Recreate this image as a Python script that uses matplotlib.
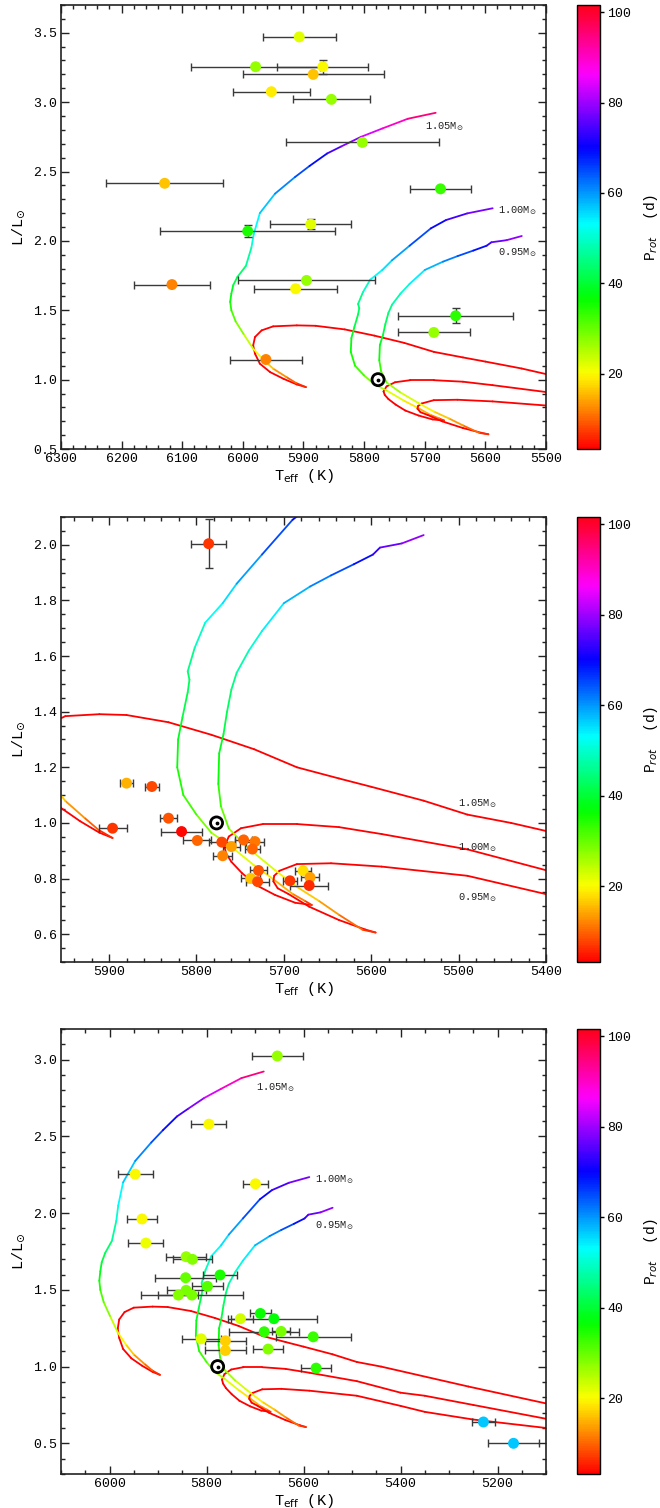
import numpy as np
import matplotlib
matplotlib.use('Agg')
import matplotlib.pyplot as plt
from matplotlib.collections import LineCollection
from matplotlib.colors import Normalize
from matplotlib.cm import ScalarMappable
from matplotlib.ticker import MultipleLocator

plt.rcParams['font.family'] = ['Liberation Mono', 'DejaVu Sans Mono', 'DejaVu Sans']
plt.rcParams['mathtext.fontset'] = 'dejavusans'

# evolutionary tracks: Teff, L, Prot along the track (pre-MS from the cool side, then MS)
trk105_teff = [5100, 5260, 5440, 5490, 5540, 5600, 5637, 5685, 5734, 5783, 5832, 5880, 5911, 5950,
               5969, 5980, 5983, 5980, 5972, 5955, 5933, 5911, 5896,
               5912, 5928, 5950, 5966, 5983, 5999, 6012, 6019, 6021, 6019, 6016, 6009, 5995, 5986,
               5982, 5972, 5947, 5914, 5890, 5861, 5838, 5805, 5770, 5728, 5682]
trk105_lum = [0.76, 0.87, 1.00, 1.03, 1.08, 1.13, 1.16, 1.20, 1.265, 1.317, 1.362, 1.388, 1.391, 1.384,
              1.355, 1.307, 1.247, 1.187, 1.115, 1.054, 1.006, 0.965, 0.946,
              0.975, 1.018, 1.079, 1.143, 1.223, 1.33, 1.42, 1.50, 1.56, 1.62, 1.68, 1.74, 1.82, 1.95,
              2.05, 2.20, 2.34, 2.46, 2.54, 2.63, 2.68, 2.75, 2.81, 2.88, 2.923]
trk105_prot = [3.5, 3.5, 3.5, 3.5, 3.5, 3.5, 3.5, 3.5, 3.5, 3.5, 3.5, 3.5, 3.5, 3.5,
               3.5, 3.5, 3.5, 3.5, 3.5, 3.5, 3.5, 3.5, 4,
               8, 11, 15, 18, 22, 26, 30, 33, 36, 38, 40, 42, 45, 49,
               52, 55, 59, 63, 67, 72, 76, 81, 87, 93, 97]

trk100_teff = [5100, 5250, 5350, 5400, 5490, 5588, 5637, 5685, 5724, 5749, 5763, 5768, 5766, 5760,
               5748, 5732, 5710, 5687, 5668,
               5676, 5690, 5713, 5735, 5763, 5783, 5800, 5815, 5822, 5821, 5816, 5810, 5808, 5810,
               5802, 5790, 5770, 5754, 5725, 5690, 5665, 5630, 5588]
trk100_lum = [0.66, 0.75, 0.81, 0.83, 0.905, 0.96, 0.985, 0.996, 0.996, 0.981, 0.951, 0.915, 0.89, 0.86,
              0.82, 0.777, 0.741, 0.713, 0.705,
              0.72, 0.745, 0.80, 0.85, 0.922, 0.965, 1.03, 1.10, 1.20, 1.30, 1.38, 1.47, 1.515, 1.545,
              1.63, 1.72, 1.79, 1.86, 1.965, 2.09, 2.15, 2.198, 2.235]
trk100_prot = [3.5, 3.5, 3.5, 3.5, 3.5, 3.5, 3.5, 3.5, 3.5, 3.5, 3.5, 3.5, 3.5, 3.5,
               3.5, 3.5, 3.5, 3.5, 4,
               10, 13, 17, 20, 24, 27, 31, 34, 36, 38, 40, 42, 43, 44,
               47, 51, 54, 57, 62, 68, 72, 76, 79]

trk095_teff = [5100, 5250, 5350, 5400, 5490, 5588, 5646, 5685, 5705, 5711, 5712, 5707, 5695, 5671, 5637,
               5607, 5595,
               5610, 5637, 5660, 5685, 5710, 5741, 5763, 5772, 5775, 5774, 5769, 5765, 5760, 5754,
               5740, 5725, 5700, 5670, 5646, 5620, 5598, 5590, 5565, 5540]
trk095_lum = [0.60, 0.655, 0.705, 0.744, 0.81, 0.843, 0.855, 0.852, 0.828, 0.81, 0.79, 0.765, 0.745, 0.699, 0.651,
              0.617, 0.606,
              0.616, 0.67, 0.72, 0.77, 0.83, 0.91, 0.98, 1.06, 1.14, 1.25, 1.32, 1.40, 1.48, 1.54,
              1.62, 1.69, 1.79, 1.85, 1.89, 1.93, 1.965, 1.99, 2.005, 2.035]
trk095_prot = [3.5, 3.5, 3.5, 3.5, 3.5, 3.5, 3.5, 3.5, 3.5, 3.5, 3.5, 3.5, 3.5, 3.5, 3.5,
               3.5, 4,
               9, 12, 15, 18, 21, 24, 28, 32, 35, 38, 40, 42, 44, 46,
               49, 52, 56, 60, 63, 67, 71, 75, 78, 80]

# panel 1 stars
teff1 = [5907, 5979, 5868, 5884, 5953, 5854, 5803, 5674, 6129, 5888, 5992, 6117, 5895, 5913, 5649, 5685, 5962]
lum1 = [3.47, 3.255, 3.255, 3.20, 3.075, 3.02, 2.71, 2.375, 2.415, 2.12, 2.07, 1.685, 1.715, 1.655, 1.46, 1.34, 1.145]
terr1 = [60, 106, 75, 116, 63, 64, 126, 50, 97, 67, 144, 63, 113, 68, 95, 59, 59]
lerr1 = [0, 0, 0.05, 0, 0, 0, 0.02, 0, 0, 0.036, 0.043, 0, 0, 0, 0.054, 0, 0]
prot1 = [22, 27, 20, 16, 19, 27, 27, 33, 16, 22, 35, 12, 27, 20, 34, 27, 12]

# panel 2 stars
teff2 = [5786, 5880, 5851, 5832, 5896, 5817, 5799, 5771, 5760, 5746, 5733, 5736, 5770, 5729, 5738,
         5730, 5678, 5670, 5693, 5671]
lum2 = [2.004, 1.143, 1.131, 1.017, 0.981, 0.969, 0.937, 0.931, 0.915, 0.939, 0.933, 0.906, 0.882, 0.829,
        0.801, 0.789, 0.828, 0.804, 0.792, 0.775]
terr2 = [20, 7, 8, 10, 16, 23, 16, 15, 10, 10, 10, 9, 11, 10, 11, 13, 9, 10, 8, 22]
lerr2 = [0.088, 0, 0, 0, 0, 0, 0, 0, 0, 0, 0, 0, 0, 0, 0, 0, 0, 0, 0, 0]
prot2 = [7, 15, 8, 9, 7, 4, 10, 8, 14, 10, 11, 10, 12, 9, 16, 8, 18, 14, 7, 6]

# panel 3 stars
teff3 = [5654, 5795, 5947, 5699, 5933, 5925, 5842, 5829, 5772, 5843, 5798, 5842, 5858, 5830,
         5689, 5730, 5661, 5681, 5646, 5580, 5811, 5761, 5761, 5673, 5574, 5229, 5167]
lum3 = [3.024, 2.580, 2.254, 2.191, 1.962, 1.805, 1.716, 1.699, 1.597, 1.579, 1.523, 1.497, 1.466, 1.466,
        1.346, 1.312, 1.312, 1.227, 1.229, 1.194, 1.181, 1.168, 1.105, 1.114, 0.990, 0.639, 0.500]
terr3 = [53, 36, 36, 25, 30, 36, 41, 40, 35, 63, 31, 40, 41, 106,
         21, 25, 89, 72, 19, 77, 40, 42, 42, 31, 31, 24, 53]
prot3 = [27, 20, 20, 20, 20, 21, 27, 28, 35, 30, 31, 29, 28, 29,
         36, 23, 37, 34, 29, 33, 22, 17, 17, 28, 34, 57, 57]

sun_teff, sun_lum = 5777, 1.0

cmap = plt.get_cmap('hsv')
norm = Normalize(vmin=3.3, vmax=101.6)


def draw_track(ax, teff, lum, prot):
    pts = np.column_stack([teff, lum])
    segs = np.stack([pts[:-1], pts[1:]], axis=1)
    p = np.asarray(prot, dtype=float)
    lc = LineCollection(segs, cmap=cmap, norm=norm, linewidth=1.3, zorder=2,
                        capstyle='round', joinstyle='round')
    lc.set_array(0.5 * (p[:-1] + p[1:]))
    ax.add_collection(lc)


def draw_stars(ax, teff, lum, terr, lerr, prot):
    ax.errorbar(teff, lum, xerr=terr, yerr=lerr, fmt='none', ecolor='#3a3a3a',
                elinewidth=1.0, capsize=3, capthick=1.0, zorder=3)
    ax.scatter(teff, lum, c=prot, cmap=cmap, norm=norm, s=62, edgecolors='none', zorder=4)


def draw_sun(ax):
    ax.scatter([sun_teff], [sun_lum], s=75, facecolors='none', edgecolors='black',
               linewidths=2.0, zorder=5)
    ax.scatter([sun_teff], [sun_lum], s=3, color='black', zorder=5)


def style(ax, xlim, ylim, xmaj, xmin, ymaj, ymin):
    ax.set_xlim(*xlim)
    ax.set_ylim(*ylim)
    ax.xaxis.set_major_locator(MultipleLocator(xmaj))
    ax.xaxis.set_minor_locator(MultipleLocator(xmin))
    ax.yaxis.set_major_locator(MultipleLocator(ymaj))
    ax.yaxis.set_minor_locator(MultipleLocator(ymin))
    ax.tick_params(which='both', direction='in', top=True, right=True, labelsize=9.5,
                   color='#222222', width=1.0)
    ax.tick_params(which='major', length=6, pad=3)
    ax.tick_params(which='minor', length=3)
    for s in ax.spines.values():
        s.set_linewidth(1.2)
        s.set_color('#222222')
    ax.set_xlabel('T$_{\\rm eff}$ (K)', fontsize=11, labelpad=1)
    ax.set_ylabel('L/L$_{\\odot}$', fontsize=11, labelpad=4)


fig = plt.figure(figsize=(6.6, 15.08), dpi=100)
W, H = 660.0, 1508.0
panels = [(5, 449), (517, 962), (1029, 1474)]
axes = []
for top, bot in panels:
    ax = fig.add_axes([61 / W, 1 - bot / H, 485 / W, (bot - top) / H])
    cax = fig.add_axes([577 / W, 1 - bot / H, 23 / W, (bot - top) / H])
    cb = fig.colorbar(ScalarMappable(norm=norm, cmap=cmap), cax=cax)
    cb.set_ticks([20, 40, 60, 80, 100])
    cb.outline.set_linewidth(1.0)
    cax.tick_params(labelsize=9.5, length=3, width=1.0, direction='out', pad=2)
    cb.set_label('P$_{rot}$  (d)', fontsize=10.5, labelpad=8)
    axes.append(ax)

tracks = [(trk105_teff, trk105_lum, trk105_prot),
          (trk100_teff, trk100_lum, trk100_prot),
          (trk095_teff, trk095_lum, trk095_prot)]
mlabels = ['1.05M$_{\\odot}$', '1.00M$_{\\odot}$', '0.95M$_{\\odot}$']

# panel 1
ax = axes[0]
for t in tracks:
    draw_track(ax, *t)
draw_stars(ax, teff1, lum1, terr1, lerr1, prot1)
draw_sun(ax)
style(ax, (6300, 5500), (0.5, 3.7), 100, 20, 0.5, 0.1)
for lab, (x, y) in zip(mlabels, [(5700, 2.82), (5579, 2.216), (5579, 1.916)]):
    ax.text(x, y, lab, fontsize=7.5, ha='left', va='center', color='#222222')

# panel 2
ax = axes[1]
for t in tracks:
    draw_track(ax, *t)
draw_stars(ax, teff2, lum2, terr2, lerr2, prot2)
draw_sun(ax)
style(ax, (5955, 5400), (0.5, 2.1), 100, 20, 0.2, 0.05)
for lab, (x, y) in zip(mlabels, [(5501, 1.071), (5501, 0.912), (5501, 0.732)]):
    ax.text(x, y, lab, fontsize=7.5, ha='left', va='center', color='#222222')

# panel 3
ax = axes[2]
for t in tracks:
    draw_track(ax, *t)
draw_stars(ax, teff3, lum3, terr3, [0] * len(teff3), prot3)
draw_sun(ax)
style(ax, (6100, 5100), (0.3, 3.2), 200, 50, 0.5, 0.1)
for lab, (x, y) in zip(mlabels, [(5698, 2.82), (5577, 2.219), (5577, 1.921)]):
    ax.text(x, y, lab, fontsize=7.5, ha='left', va='center', color='#222222')

fig.savefig('out.png', dpi=100)
